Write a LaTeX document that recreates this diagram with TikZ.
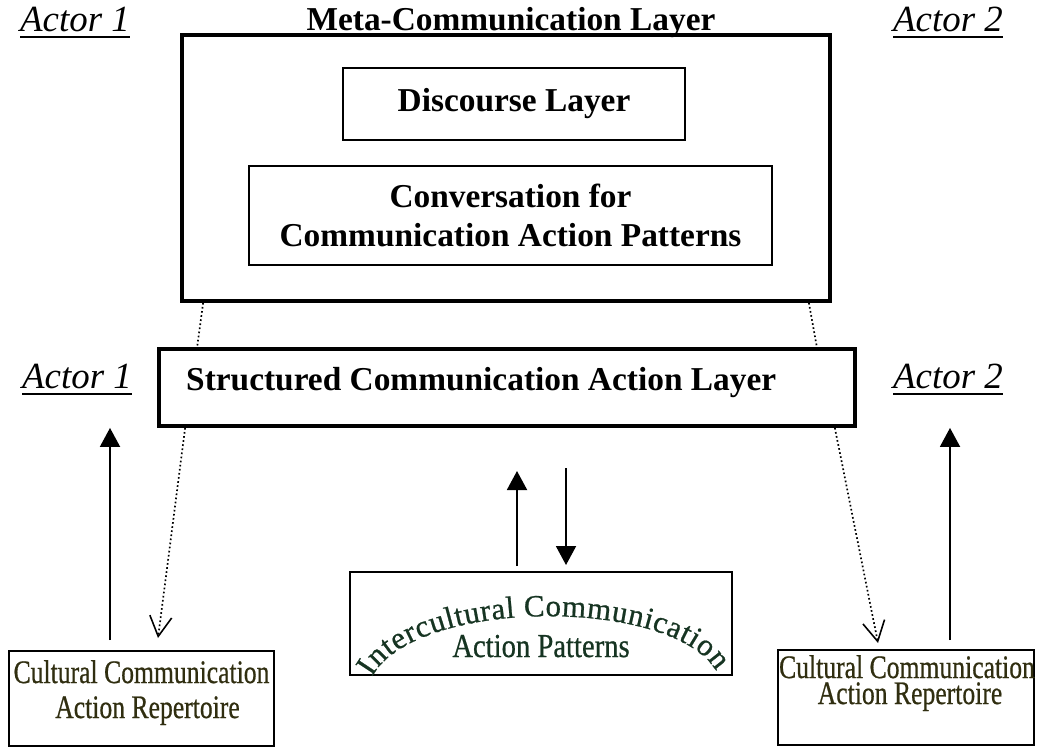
\documentclass[tikz,border=0pt]{standalone}
\usepackage{graphicx}
\usepackage{fontspec}
\setmainfont{Liberation Serif}
\newfontfamily\artfont{Liberation Serif}[FakeBold=0.7]
\usetikzlibrary{arrows.meta,calc,decorations.text}

\definecolor{artgreen}{RGB}{22,52,34}
\definecolor{artolive}{RGB}{48,46,16}

% tall letters for the word-art boxes
\newcommand{\stretchy}[1]{\scalebox{1}[1.28]{#1}}
% actor names with a heavier underline
\newcommand{\actorlabel}[1]{\setbox0\hbox{#1}\rlap{\rule[-3.8pt]{\wd0}{1.1pt}}\box0}

\begin{document}
\begin{tikzpicture}[x=0.02cm, y=-0.02cm,
    outerbox/.style = {draw, line width=2.2pt, inner sep=0pt},
    innerbox/.style = {draw, line width=0.85pt, inner sep=0pt},
    titletext/.style = {font=\fontsize{19}{22}\selectfont\bfseries},
    actortext/.style = {font=\fontsize{21}{24}\selectfont\itshape},
    arttext/.style = {font=\artfont\fontsize{14.6}{17}\selectfont, text=artolive},
    flowarrow/.style = {line width=1.1pt, -{Triangle[length=0.38cm,width=0.4cm]}},
    dotlink/.style = {line width=0.95pt, dash pattern=on 0.95pt off 1.4pt},
    dotarrow/.style = {dotlink, -{Straight Barb[length=0.4cm,width=0.44cm,line width=0.9pt]}}]

    \useasboundingbox (0,0) rectangle (1037,748);

    % upper part: meta layer with its two inner boxes
    \node[outerbox, minimum width=12.96cm, minimum height=5.32cm] (meta) at (506,168) {};
    \node[titletext, anchor=base] (meta-t) at (511,30) {Meta-Communication Layer};
    \node[innerbox, titletext, minimum width=6.84cm, minimum height=1.44cm] (disc) at (514,104) {Discourse Layer};
    \node[innerbox, titletext, align=center, minimum width=10.46cm, minimum height=1.98cm] (conv) at (510.5,215.5)
        {Conversation for\\Communication Action Patterns};

    \node[outerbox, minimum width=13.92cm, minimum height=1.54cm] (sca) at (507,387.5) {};
    \node[titletext, anchor=base west] (sca-t) at (180,390) {Structured Communication Action Layer};

    \node[actortext, anchor=base] (a1top) at (75,31) {\actorlabel{Actor 1}};
    \node[actortext, anchor=base] (a2top) at (948,31) {\actorlabel{Actor 2}};
    \node[actortext, anchor=base] (a1) at (77,388) {\actorlabel{Actor 1}};
    \node[actortext, anchor=base] (a2) at (948,388) {\actorlabel{Actor 2}};

    % lower part: repertoires and patterns
    \node[innerbox, minimum width=5.3cm, minimum height=1.9cm] (crl) at (141.5,698.5) {};
    \node[arttext, anchor=base] (crl-a) at (141.5,683) {\stretchy{Cultural Communication}};
    \node[arttext, anchor=base] (crl-b) at (147.5,718) {\stretchy{Action Repertoire}};

    \node[innerbox, minimum width=5.12cm, minimum height=1.9cm] (crr) at (906,697.5) {};
    \node[arttext, anchor=base] (crr-a) at (907,678) {\stretchy{Cultural Communication}};
    \node[arttext, anchor=base] (crr-b) at (910,704) {\stretchy{Action Repertoire}};

    \node[innerbox, minimum width=7.64cm, minimum height=2.06cm] (icap) at (541,623.5) {};
    \node[arttext, text=artgreen, font=\artfont\fontsize{16.3}{19}\selectfont, anchor=base] (icap-b) at (541,657)
        {\scalebox{1}[1.17]{Action Patterns}};
    \path[decorate, decoration={text along path, text align={fit to path},
        text={|\artfont\fontsize{17.6}{18}\selectfont\color{artgreen}|Intercultural Communication}}]
        (372,677) .. controls (415,597) and (673,597) .. (716,671);

    \coordinate (upL) at (110,640);
    \coordinate (upR) at (950,640);
    \coordinate (up-from) at (517,566);
    \coordinate (up-to) at (517,471);
    \coordinate (down-from) at (566,468);
    \coordinate (down-to) at (566,565);
    \coordinate (tipL) at (158,638);
    \coordinate (tipR) at (878,643);

    \draw[flowarrow] (upL) -- (upL |- sca.south);
    \draw[flowarrow] (upR) -- (upR |- sca.south);
    \draw[flowarrow] (up-from) -- (up-to);
    \draw[flowarrow] (down-from) -- (down-to);

    \draw[dotlink] ($(meta.south west)+(23,0)$) -- ($(sca.north west)+(40,0)$);
    \draw[dotlink] ($(meta.south east)+(-23,0)$) -- ($(sca.north east)+(-40,0)$);
    \draw[dotarrow] ($(sca.south west)+(28,0)$) -- (tipL);
    \draw[dotarrow] ($(sca.south east)+(-22,0)$) -- (tipR);

\end{tikzpicture}
\end{document}
